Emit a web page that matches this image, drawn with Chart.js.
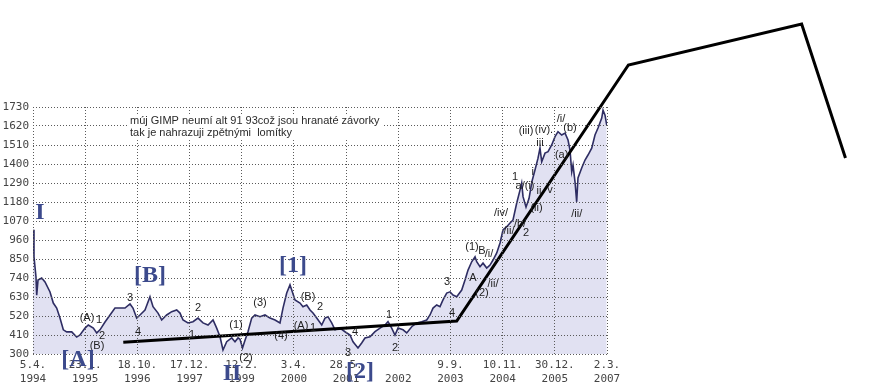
<!DOCTYPE html>
<html><head><meta charset="utf-8">
<script src="https://cdn.jsdelivr.net/npm/chart.js@4.4.1/dist/chart.umd.min.js"></script>
<style>html,body{margin:0;padding:0;background:#fff}#w{width:890px;height:389px}</style>
</head><body><div id="w"><canvas id="c" width="890" height="389"></canvas></div>
<script>
// x axis: tick positions 0..11 carry these date labels
const xTickLabels = [["5.4.","1994"],["23.1.","1995"],["18.10.","1996"],["17.12.","1997"],["12.2.","1999"],["3.4.","2000"],["28.5.","2001"],["","2002"],["9.9.","2003"],["10.11.","2004"],["30.12.","2005"],["2.3.","2007"]];
const yTicks = [300,410,520,630,740,850,960,1070,1180,1290,1400,1510,1620,1730];

// index series (x in label-interval units, y = index level)
const priceX = [0,0.019,0.057,0.071,0.096,0.167,0.230,0.326,0.389,0.454,0.517,0.581,0.646,0.742,0.837,0.901,0.997,1.060,1.156,1.221,1.284,1.380,1.476,1.571,1.667,1.763,1.859,1.916,1.987,2.050,2.146,2.242,2.300,2.396,2.466,2.562,2.658,2.754,2.817,2.875,2.970,3.066,3.162,3.258,3.354,3.450,3.520,3.584,3.641,3.712,3.808,3.871,3.929,3.967,4.015,4.063,4.120,4.191,4.254,4.350,4.446,4.542,4.638,4.733,4.791,4.862,4.925,4.958,5.021,5.117,5.174,5.245,5.309,5.366,5.437,5.533,5.596,5.653,5.724,5.788,5.883,5.979,6.075,6.133,6.228,6.299,6.362,6.458,6.554,6.650,6.746,6.803,6.874,6.937,6.995,7.091,7.162,7.258,7.353,7.449,7.545,7.608,7.666,7.737,7.800,7.857,7.928,7.992,8.049,8.120,8.216,8.279,8.337,8.407,8.471,8.503,8.566,8.624,8.695,8.758,8.816,8.887,8.950,9.007,9.078,9.142,9.199,9.270,9.333,9.365,9.391,9.448,9.505,9.563,9.620,9.678,9.716,9.749,9.812,9.870,9.940,10.004,10.061,10.132,10.196,10.253,10.291,10.324,10.349,10.387,10.419,10.444,10.515,10.579,10.636,10.707,10.770,10.828,10.899,10.924,10.962,10.994];
const priceY = [1020,863,747,641,728,740,717,659,595,566,508,440,428,428,398,410,450,468,450,422,440,485,526,566,566,566,590,566,508,526,555,632,574,537,497,526,545,555,537,497,480,487,508,480,468,497,450,400,323,371,393,371,393,385,335,380,429,508,526,516,526,508,497,480,566,653,700,670,613,595,574,584,555,537,508,468,508,516,480,440,450,429,410,371,335,364,393,400,429,450,468,487,450,410,450,440,422,458,480,487,497,526,566,584,574,613,653,660,641,632,670,728,786,834,863,834,805,826,798,815,844,885,943,1018,1037,1058,1076,1174,1249,1290,1211,1150,1200,1300,1365,1434,1492,1413,1463,1471,1510,1558,1587,1568,1579,1539,1481,1355,1394,1297,1181,1319,1377,1423,1452,1492,1568,1608,1666,1712,1683,1626];

// hand-drawn trend line (listed from its end back to its start)
const trendX = [15.57,14.73,11.41,8.12,1.73];
const trendY = [1435,2210,1973,491,368];

// wave labels [text, x, y]
const waveBig = [["I",0.134,1116],["[A]",0.862,265],["[B]",2.242,752],["II",3.814,184],["[1]",4.983,809],["[2]",6.267,196]];
const waveSmall = [["(A)",1.035,508],["1",1.265,497],["2",1.322,404],["(B)",1.227,346],["3",1.859,624],["4",2.012,427],
 ["2",3.162,566],["1",3.047,410],["(1)",3.890,468],["(2)",4.082,277],["(3)",4.350,595],["(4)",4.753,404],
 ["(B)",5.270,630],["2",5.500,572],["(A)",5.136,462],["1",5.366,451],["4",6.171,427],["3",6.037,306],["1",6.823,526],["2",6.937,335],
 ["3",7.934,717],["4",8.030,537],["(1)",8.413,919],["A",8.432,740],["B",8.605,896],["/i/",8.739,879],["(2)",8.605,653],["/ii/",8.816,705],
 ["/iv/",8.969,1116],["/ii/",9.122,1012],["/b/",9.333,1053],["2",9.448,1000],["1",9.237,1325],["a/(i)",9.429,1273],["i",9.577,1355],
 ["ii",9.697,1244],["v",9.908,1249],["(ii)",9.650,1143],["iii",9.716,1522],["(iii)",9.448,1593],["(iv).",9.793,1597],
 ["/i/",10.12,1660],["(b)",10.29,1608],["(a)",10.13,1452],["/ii/",10.42,1110]];
const noteLines = ["múj GIMP neumí alt 91 93což jsou hranaté závorky","tak je nahrazuji zpětnými  lomítky"];
const noteAnchor = [1.859, 1649, 1579];

const annot = {
  id: 'annot',
  afterDraw(chart) {
    const {ctx, scales: {x, y}} = chart;
    ctx.save();
    // note with white background
    ctx.font = '11px "Liberation Sans", Arial, sans-serif';
    ctx.textBaseline = 'middle';
    ctx.textAlign = 'left';
    const nx = x.getPixelForValue(noteAnchor[0]);
    const y1 = y.getPixelForValue(noteAnchor[1]), y2 = y.getPixelForValue(noteAnchor[2]);
    const w = Math.max(...noteLines.map(t => ctx.measureText(t).width));
    ctx.fillStyle = '#fff';
    ctx.fillRect(nx - 2, y1 - 7, w + 6, (y2 - y1) + 14);
    ctx.fillStyle = '#2a2a2a';
    ctx.fillText(noteLines[0], nx, y1);
    ctx.fillText(noteLines[1], nx, y2);
    // small wave labels
    ctx.textAlign = 'center';
    ctx.fillStyle = '#1e1e1e';
    waveSmall.forEach(([t, u, v]) => ctx.fillText(t, x.getPixelForValue(u), y.getPixelForValue(v)));
    // big wave labels
    ctx.font = 'bold 24px "Liberation Serif", "Times New Roman", serif';
    ctx.fillStyle = '#3c4a8c';
    waveBig.forEach(([t, u, v]) => ctx.fillText(t, x.getPixelForValue(u), y.getPixelForValue(v)));
    ctx.restore();
  }
};

const tickFont = {family: '"DejaVu Sans Mono", monospace', size: 11, lineHeight: 1.2};
new Chart(document.getElementById('c'), {
  type: 'line',
  data: {
    datasets: [
      {data: trendX.map((v, i) => ({x: v, y: trendY[i]})), borderColor: '#000', borderWidth: 3, fill: false,
       pointRadius: 0, clip: false, tension: 0, borderJoinStyle: 'miter'},
      {data: priceX.map((v, i) => ({x: v, y: priceY[i]})), borderColor: '#2e2d63', borderWidth: 1.6,
       backgroundColor: '#e1e1f2', fill: 'start', pointRadius: 0, tension: 0}
    ]
  },
  options: {
    responsive: false, animation: false, events: [],
    layout: {padding: {top: 107, right: 283, left: 0, bottom: 0}},
    plugins: {legend: {display: false}, tooltip: {enabled: false}},
    scales: {
      x: {
        type: 'linear', min: 0, max: xTickLabels.length - 1,
        afterBuildTicks: s => { s.ticks = xTickLabels.map((_, i) => ({value: i})); },
        afterFit: s => { s.height = 35; },
        ticks: {autoSkip: false, maxRotation: 0, padding: 5, color: '#444', font: tickFont,
                callback: v => xTickLabels[v]},
        grid: {color: '#5a5a5a', lineWidth: 1, drawTicks: false, z: 1},
        border: {display: false, dash: [1, 2]}
      },
      y: {
        type: 'linear', min: yTicks[0], max: yTicks[yTicks.length - 1],
        afterBuildTicks: s => { s.ticks = yTicks.map(v => ({value: v})); },
        afterFit: s => { s.width = 33; },
        ticks: {padding: 4, color: '#444', font: tickFont, callback: v => String(v)},
        grid: {color: '#5a5a5a', lineWidth: 1, drawTicks: false, z: 1},
        border: {display: false, dash: [1, 2]}
      }
    }
  },
  plugins: [annot]
});
</script></body></html>
